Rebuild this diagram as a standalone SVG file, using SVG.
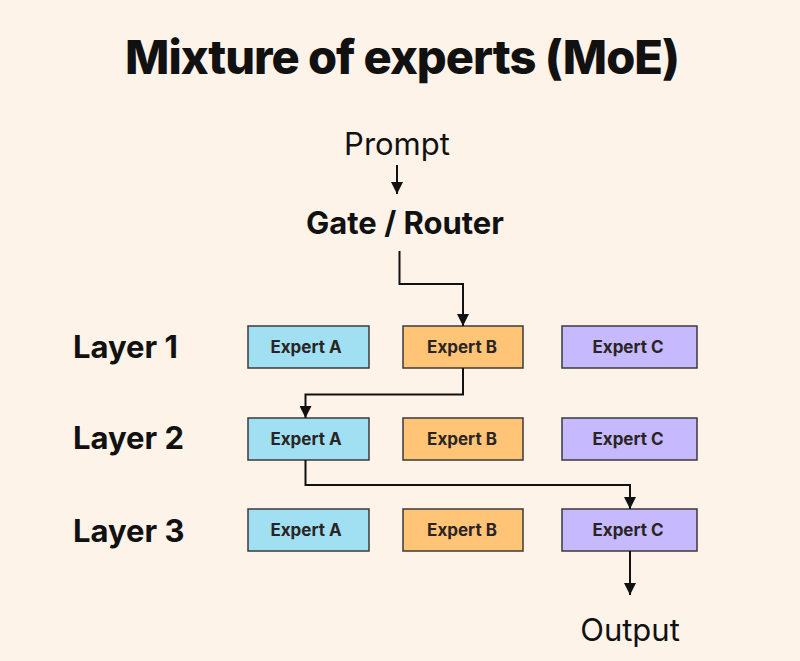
<svg xmlns="http://www.w3.org/2000/svg" width="800" height="661" viewBox="0 0 800 661">
<defs>
<style>
.t{font-family:Inter,"Liberation Sans",sans-serif;fill:#111}
.title{font-size:47px;font-weight:800;letter-spacing:-1px}
.big{font-size:31px}
.lay{font-size:31px;font-weight:700}
.ex{font-size:17px;font-weight:700;fill:#2a2424}
.bx{stroke:#3a3a3a;stroke-width:1.5}
.a{fill:#a0e0f2}.b{fill:#ffc476}.c{fill:#c6b9fd}
.ln{fill:none;stroke:#111;stroke-width:2}
</style>
<marker id="ar2" viewBox="0 0 10 10" refX="10" refY="5" markerWidth="12" markerHeight="12" markerUnits="userSpaceOnUse" orient="auto">
<path d="M0,0 L10,5 L0,10 z" fill="#111"/>
</marker>
</defs>
<rect width="800" height="661" fill="#fdf3e8"/>
<text class="t title" x="402" y="74" text-anchor="middle">Mixture of experts (MoE)</text>
<g id="prompt"><text class="t big" x="397" y="155" text-anchor="middle">Prompt</text></g>
<g id="gate"><text class="t big" x="405" y="234" text-anchor="middle" font-weight="700">Gate / Router</text></g>
<g id="labels">
<text class="t lay" x="73" y="358">Layer 1</text>
<text class="t lay" x="73" y="449">Layer 2</text>
<text class="t lay" x="73" y="542">Layer 3</text>
</g>
<g id="l1a"><rect class="bx a" x="248" y="326" width="121" height="42"/><text class="t ex" x="306" y="353" text-anchor="middle">Expert A</text></g>
<g id="l1b"><rect class="bx b" x="403" y="326" width="120" height="42"/><text class="t ex" x="462" y="353" text-anchor="middle">Expert B</text></g>
<g id="l1c"><rect class="bx c" x="562" y="326" width="135" height="42"/><text class="t ex" x="628" y="353" text-anchor="middle">Expert C</text></g>
<g id="l2a"><rect class="bx a" x="248" y="418" width="121" height="42"/><text class="t ex" x="306" y="445" text-anchor="middle">Expert A</text></g>
<g id="l2b"><rect class="bx b" x="403" y="418" width="120" height="42"/><text class="t ex" x="462" y="445" text-anchor="middle">Expert B</text></g>
<g id="l2c"><rect class="bx c" x="562" y="418" width="135" height="42"/><text class="t ex" x="628" y="445" text-anchor="middle">Expert C</text></g>
<g id="l3a"><rect class="bx a" x="248" y="509" width="121" height="42"/><text class="t ex" x="306" y="536" text-anchor="middle">Expert A</text></g>
<g id="l3b"><rect class="bx b" x="403" y="509" width="120" height="42"/><text class="t ex" x="462" y="536" text-anchor="middle">Expert B</text></g>
<g id="l3c"><rect class="bx c" x="562" y="509" width="135" height="42"/><text class="t ex" x="628" y="536" text-anchor="middle">Expert C</text></g>
<g id="output"><text class="t big" x="630" y="641" text-anchor="middle">Output</text></g>
<g id="connectors">
<path class="ln" d="M397,165 V194" marker-end="url(#ar2)"/>
<path class="ln" d="M399.5,251 V284 H463 V326" marker-end="url(#ar2)"/>
<path class="ln" d="M463,368 V394.5 H305.5 V418" marker-end="url(#ar2)"/>
<path class="ln" d="M305.5,460 V485 H630 V509" marker-end="url(#ar2)"/>
<path class="ln" d="M630,551 V595" marker-end="url(#ar2)"/>
</g>
</svg>
